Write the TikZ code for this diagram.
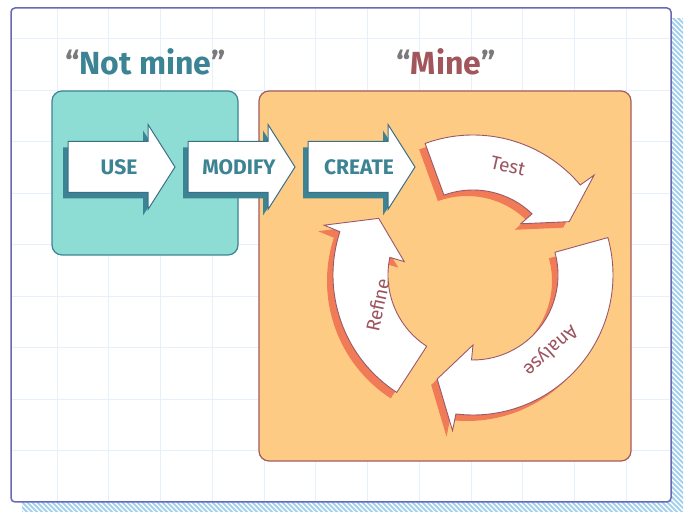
\documentclass[tikz,border=0pt]{standalone}
\usepackage{fontspec}
\setmainfont{Fira Sans}
\definecolor{tealfill}{HTML}{8EDDD5}
\definecolor{tealdark}{HTML}{3C8394}
\definecolor{tealline}{HTML}{3B6F88}
\definecolor{orangefill}{HTML}{FECB84}
\definecolor{orangeline}{HTML}{A35B5E}
\definecolor{redshadow}{HTML}{F07B56}
\definecolor{redtext}{HTML}{9D5460}
\definecolor{curveline}{HTML}{9A5868}
\definecolor{framec}{HTML}{6769B4}
\definecolor{gridc}{HTML}{E5F0FA}
\definecolor{hatchc}{HTML}{A3D1EE}
\definecolor{quotec}{HTML}{7A7A7A}
\definecolor{minetext}{HTML}{A0565B}
\newcommand\cyclearrow[3]{(#1:140) arc[start angle=#1, end angle=#2-3, radius=140] -- (#2-3.5:157) -- (#3:110) -- (#2+4:70) -- (#2+3:85) arc[start angle=#2+3, end angle=#1, radius=85] -- cycle}
\newcommand\blockarrow[1]{(#1,320.5) -- (#1+80,320.5) -- (#1+80,303.5) -- (#1+107,346) -- (#1+80,388.5) -- (#1+80,371.5) -- (#1,371.5) -- cycle}
\tikzset{
  boxteal/.style={draw=tealdark, fill=tealfill, line width=1.2pt, rounded corners=10pt, inner sep=0pt},
  boxorange/.style={draw=orangeline, fill=orangefill, line width=1.2pt, rounded corners=10pt, inner sep=0pt},
  titlestyle/.style={font=\bfseries\fontsize{32}{32}\selectfont, anchor=base, inner sep=0pt},
  steplabel/.style={font=\bfseries\fontsize{21}{21}\selectfont, text=tealdark, inner sep=0pt},
  cyclelabel/.style={font=\fontsize{19}{19}\selectfont, text=redtext, inner sep=0pt},
  straightarrow/.style={fill=white, draw=tealline, line width=1pt, line join=miter},
  straightshadow/.style={fill=tealdark},
  curvearrow/.style={fill=white, draw=curveline, line width=0.9pt},
  curveshadow/.style={fill=redshadow}
}
\begin{document}
\begin{tikzpicture}[x=1pt,y=1pt]
\useasboundingbox (0,0) rectangle (688,513);
% hatched shadow
\begin{scope}
\clip (22,1) rectangle (683,494);
\foreach \k in {-500,-495,...,700} {\draw[hatchc, line width=2pt] (\k,513) -- ++(560,-560);}
\end{scope}
% frame
\draw[framec, fill=white, line width=1.5pt, rounded corners=4pt] (11,11) rectangle (671,505);
% grid
\foreach \i in {0,...,11} {\draw[gridc, line width=1pt] ({57+51.75*\i},12) -- ({57+51.75*\i},504);}
\foreach \j in {0,...,8} {\draw[gridc, line width=1pt] (12,{474-51.5*\j}) -- (670,{474-51.5*\j});}
% boxes
\node[boxteal, minimum width=186pt, minimum height=164pt] (notminebox) at (145,340) {};
\node[boxorange, minimum width=372pt, minimum height=370pt] (minebox) at (445,237) {};
% titles
\node[titlestyle, text=tealdark] (notmine) at (145.5,438) {\textcolor{quotec}{“}Not mine\textcolor{quotec}{”}};
\node[titlestyle, text=minetext] (mine) at (446,438) {\textcolor{quotec}{“}Mine\textcolor{quotec}{”}};
% straight arrows
\foreach \x/\t/\n in {68/USE/use, 188/MODIFY/modify, 308/CREATE/create} {
  \begin{scope}[shift={(-5,-6)}]
    \fill[straightshadow] \blockarrow{\x};
  \end{scope}
  \draw[straightarrow] \blockarrow{\x};
  \node[steplabel] (\n) at (\x+51,346) {\t};
}
% cycle arrows
\begin{scope}[shift={(467,232)}]
  \fill[curveshadow] \cyclearrow{110}{43}{29};
  \fill[curveshadow] \cyclearrow{15.5}{-94}{-109};
  \fill[curveshadow] \cyclearrow{237}{165}{149};
\end{scope}
\begin{scope}[shift={(473,238)}]
  \draw[curvearrow] \cyclearrow{110}{43}{29};
  \draw[curvearrow] \cyclearrow{15.5}{-94}{-109};
  \draw[curvearrow] \cyclearrow{237}{165}{149};
\end{scope}
\node[cyclelabel, rotate=-13] (test) at (508,347) {Test};
\node[cyclelabel, rotate=-138] (analyse) at (550,163) {Analyse};
\node[cyclelabel, rotate=78] (refine) at (377.5,208) {Refine};
\end{tikzpicture}
\end{document}
